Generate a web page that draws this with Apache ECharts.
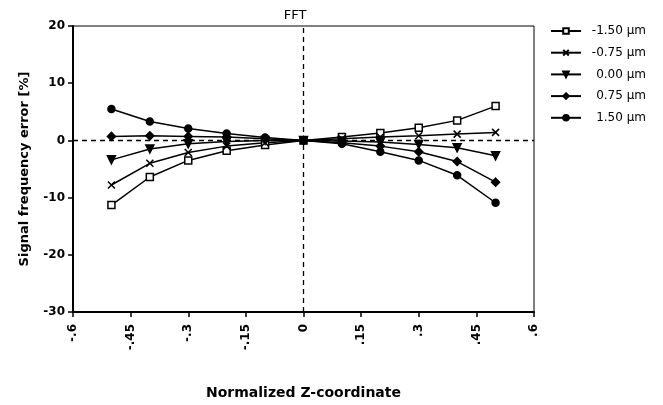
<!DOCTYPE html>
<html>
<head>
<meta charset="utf-8">
<script src="https://cdn.jsdelivr.net/npm/echarts@6/dist/echarts.min.js"></script>
<style>
  html, body { margin: 0; padding: 0; background: #fff; }
  #chart { width: 663px; height: 405px; }
</style>
</head>
<body>
<div id="chart"></div>
<script>
const zCoord = [-0.5, -0.4, -0.3, -0.2, -0.1, 0, 0.1, 0.2, 0.3, 0.4, 0.5];
const seriesNames = ['-1.50 μm', '-0.75 μm', '0.00 μm', '0.75 μm', '1.50 μm'];
const errM150 = [-11.3, -6.4, -3.5, -1.8, -0.8, 0, 0.6, 1.3, 2.2, 3.5, 6.0];
const errM075 = [-7.8, -4.0, -2.1, -1.0, -0.4, 0, 0.3, 0.6, 0.8, 1.1, 1.4];
const err000 = [-3.4, -1.5, -0.6, -0.2, 0, 0, -0.1, -0.3, -0.7, -1.3, -2.7];
const errP075 = [0.7, 0.8, 0.7, 0.6, 0.3, 0, -0.4, -1.0, -2.0, -3.7, -7.3];
const errP150 = [5.5, 3.3, 2.1, 1.2, 0.5, 0, -0.6, -2.0, -3.5, -6.1, -10.9];
const xTicks = [-0.6, -0.45, -0.3, -0.15, 0, 0.15, 0.3, 0.45, 0.6];
const xTickLabels = ['-.6', '-.45', '-.3', '-.15', '0', '.15', '.3', '.45', '.6'];

const ec = echarts.init(document.getElementById('chart'));
const font = 'DejaVu Sans';

function pairs(ys) {
    return zCoord.map((x, i) => [x, ys[i]]);
}

// marker shapes for each curve
const markers = [
    {symbol: 'rect', size: 7, fill: '#fff', rotate: 0},
    {symbol: 'path://M0,0L10,10M10,0L0,10', size: 7, fill: '#000', rotate: 0},
    {symbol: 'triangle', size: 8, fill: '#000', rotate: 180},
    {symbol: 'diamond', size: 8, fill: '#000', rotate: 0},
    {symbol: 'circle', size: 7, fill: '#000', rotate: 0}
];
const values = [errM150, errM075, err000, errP075, errP150];

const series = values.map((ys, i) => ({
    name: seriesNames[i],
    type: 'line',
    data: pairs(ys),
    symbol: markers[i].symbol,
    symbolSize: markers[i].size,
    symbolRotate: markers[i].rotate,
    showAllSymbol: true,
    lineStyle: {color: '#000', width: 1.5},
    itemStyle: {color: markers[i].fill, borderColor: '#000', borderWidth: 1.5},
    emphasis: {disabled: true},
    z: 3
}));

// dashed zero lines
series.push({
    type: 'line',
    data: [],
    silent: true,
    markLine: {
        silent: true,
        symbol: 'none',
        label: {show: false},
        lineStyle: {color: '#000', type: [5, 4], width: 1.3},
        data: [{yAxis: 0}, {xAxis: 0}]
    }
});

const option = {
    animation: false,
    title: {
        text: 'FFT',
        left: 290,
        top: 4,
        textAlign: 'center',
        textStyle: {fontFamily: font, fontSize: 13, fontWeight: 'normal', color: '#000'}
    },
    legend: {
        orient: 'vertical',
        left: 545,
        top: 20,
        itemWidth: 30,
        itemHeight: 7,
        itemGap: 9.7,
        data: seriesNames,
        formatter: name => '{a|' + name + '}',
        textStyle: {
            color: '#000',
            rich: {a: {fontFamily: font, fontSize: 12, width: 60, align: 'right', color: '#000'}}
        }
    },
    grid: {
        left: 73,
        right: 129,
        top: 26,
        bottom: 90,
        show: true,
        borderColor: '#000',
        borderWidth: 1
    },
    xAxis: {
        type: 'value',
        min: -0.6,
        max: 0.6,
        interval: 0.15,
        name: 'Normalized Z-coordinate',
        nameLocation: 'middle',
        nameGap: 74,
        nameTextStyle: {fontFamily: font, fontSize: 14, fontWeight: 'bold', color: '#000'},
        axisLine: {onZero: false, lineStyle: {color: '#000', width: 2}},
        axisTick: {show: true, length: 5, lineStyle: {color: '#000', width: 1.5}},
        splitLine: {show: false},
        axisLabel: {
            rotate: 90,
            margin: 12,
            fontFamily: font,
            fontSize: 12,
            fontWeight: 'bold',
            color: '#000',
            formatter: v => {
                const k = xTicks.findIndex(t => Math.abs(t - v) < 1e-6);
                return k >= 0 ? xTickLabels[k] : '';
            }
        }
    },
    yAxis: {
        type: 'value',
        min: -30,
        max: 20,
        interval: 10,
        name: 'Signal frequency error [%]',
        nameLocation: 'middle',
        nameGap: 42,
        nameTextStyle: {fontFamily: font, fontSize: 13, fontWeight: 'bold', color: '#000'},
        axisLine: {onZero: false, lineStyle: {color: '#000', width: 2}},
        axisTick: {show: true, length: 5, lineStyle: {color: '#000', width: 1.5}},
        splitLine: {show: false},
        axisLabel: {fontFamily: font, fontSize: 12, fontWeight: 'bold', color: '#000', margin: 8}
    },
    series: series
};

ec.setOption(option);
</script>
</body>
</html>
